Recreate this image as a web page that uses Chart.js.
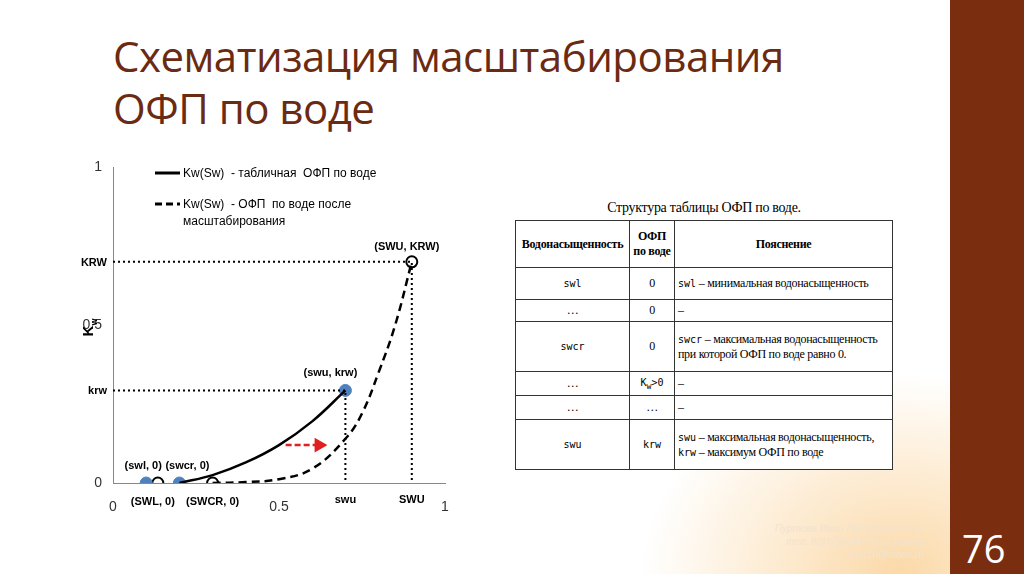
<!DOCTYPE html>
<html lang="ru">
<head>
<meta charset="UTF-8">
<script src="https://cdn.jsdelivr.net/npm/chart.js"></script>
<style>
  body { margin:0; width:1024px; height:574px; position:relative; overflow:hidden;
    font-family:'Liberation Sans', sans-serif;
    background: radial-gradient(ellipse 260px 200px at 900px 574px, #fbd9a8 0%, #fff 100%); }
  .bar { position:absolute; right:0; top:0; width:74px; height:574px; background:#7b2d0f; }
  h1 { position:absolute; left:113px; top:30px; margin:0; font-family:'Open Sans', sans-serif;
    font-weight:400; font-size:42px; line-height:52px; color:#6b2b12; letter-spacing:-0.5px; }
  .num { position:absolute; left:962px; top:522px; color:#fff; font-size:38px; font-family:'Open Sans',sans-serif; }
  .foot { position:absolute; right:100px; top:522px; font-size:10px; font-style:italic; color:#f3e3cf; text-align:right; line-height:13px; }
  #wrap { position:absolute; left:80px; top:150px; width:400px; height:385px; background:#fff; }
  .tbl { position:absolute; left:515px; top:200px; width:378px; background:#fff;
    font-family:'Liberation Serif', serif; font-size:12px; letter-spacing:-0.3px; }
  .tbl .cap { text-align:center; font-size:14px; height:20px; }
  table { border-collapse:collapse; width:100%; table-layout:fixed; }
  td, th { border:1px solid #333; padding:1px 3px; text-align:center; }
  th { font-size:12px; height:44px; }
  td.l { text-align:left; }
  .m { font-family:'DejaVu Sans Mono', monospace; font-size:10px; letter-spacing:0; }
</style>
</head>
<body>
<div class="bar"></div>
<h1>Схематизация масштабирования<br>ОФП по воде</h1>
<div id="wrap"><canvas id="c"></canvas></div>
<div class="tbl">
  <div class="cap">Структура таблицы ОФП по воде.</div>
  <table>
    <colgroup><col style="width:114px"><col style="width:45px"><col></colgroup>
    <tr><th>Водонасыщенность</th><th>ОФП<br>по воде</th><th>Пояснение</th></tr>
    <tr style="height:32px"><td class="m">swl</td><td>0</td><td class="l"><span class="m">swl</span> – минимальная водонасыщенность</td></tr>
    <tr style="height:22px"><td>…</td><td>0</td><td class="l">–</td></tr>
    <tr style="height:50px"><td class="m">swcr</td><td>0</td><td class="l"><span class="m">swcr</span> – максимальная водонасыщенность при которой ОФП по воде равно 0.</td></tr>
    <tr style="height:24px"><td>…</td><td class="m">K<sub>w</sub>&gt;0</td><td class="l">–</td></tr>
    <tr style="height:24px"><td>…</td><td>…</td><td class="l">–</td></tr>
    <tr style="height:50px"><td class="m">swu</td><td class="m">krw</td><td class="l"><span class="m">swu</span> – максимальная водонасыщенность,<br><span class="m">krw</span> – максимум ОФП по воде</td></tr>
  </table>
</div>
<div class="foot">Пуртова Инна Петровна к.т.н.<br>тел. 8(912)9244778 эл.почта<br>inna10@inbox.ru</div>
<div class="num">76</div>
<script>
// табличная ОФП
const tableSw = [0.2, 0.3, 0.4, 0.5, 0.6, 0.7];
const tableKw = [0, 0.025, 0.065, 0.12, 0.195, 0.293];
// после масштабирования
const scaledSw = [0.3, 0.4, 0.5, 0.6, 0.7, 0.75, 0.8, 0.85, 0.9];
const scaledKw = [0, 0.003, 0.012, 0.045, 0.14, 0.22, 0.35, 0.5, 0.7];
// точки
const filledPts = [[0.1, 0], [0.2, 0], [0.7, 0.293]];
const openPts = [[0.135, 0], [0.3, 0], [0.9, 0.7]];
const swu = 0.7, krw = 0.293, SWU = 0.9, KRW = 0.7;
const arrowSw = [0.52, 0.62], arrowKw = [0.12, 0.12];

const xy = (xs, ys) => xs.map((x, i) => ({x, y: ys[i]}));
const pts = a => a.map(p => ({x: p[0], y: p[1]}));
const dotted = {borderColor:'#000', borderWidth:2, borderDash:[2,3], pointRadius:0, showLine:true, fill:false};

const labels = {
  id:'labels',
  afterDraw(ch) {
    const {ctx, scales:{x, y}} = ch;
    ctx.save();
    ctx.fillStyle = '#000';
    ctx.font = 'bold 11px Liberation Sans';
    ctx.textAlign = 'center';
    const t = (s, vx, vy, dx, dy) => ctx.fillText(s, x.getPixelForValue(vx) + dx, y.getPixelForValue(vy) + dy);
    t('(SWU, KRW)', SWU, KRW, -5, -12);
    t('(swu, krw)', swu, krw, -15, -14);
    t('(swl, 0)', 0.1, 0, -3, -14);
    t('(swcr, 0)', 0.2, 0, 8, -14);
    t('(SWL, 0)', 0.135, 0, -5, 22);
    t('(SWCR, 0)', 0.3, 0, 0, 22);
    t('swu', swu, 0, 0, 20);
    t('SWU', SWU, 0, 0, 20);
    ctx.textAlign = 'right';
    t('KRW', 0, KRW, -6, 4);
    t('krw', 0, krw, -6, 4);
    ctx.font = 'bold 15px Liberation Sans';
    ctx.textAlign = 'center';
    const cx = (x.left + x.right) / 2;
    ctx.fillText('S', cx, x.bottom + 40);
    ctx.font = 'bold 9px Liberation Sans';
    ctx.fillText('w', cx + 9, x.bottom + 44);
    ctx.save();
    ctx.translate(x.left - 20, (y.top + y.bottom) / 2 + 6);
    ctx.rotate(-Math.PI / 2);
    ctx.font = 'bold 15px Liberation Sans';
    ctx.fillText('K', 0, 0);
    ctx.font = 'bold 9px Liberation Sans';
    ctx.fillText('w', 9, 4);
    ctx.restore();
    // legend
    ctx.font = '12px Liberation Sans';
    ctx.textAlign = 'left';
    ctx.lineWidth = 3;
    ctx.beginPath(); ctx.setLineDash([]); ctx.moveTo(75, 23); ctx.lineTo(100, 23); ctx.stroke();
    ctx.fillText('Kw(Sw)  - табличная  ОФП по воде', 103, 27);
    ctx.beginPath(); ctx.setLineDash([7, 4]); ctx.moveTo(75, 54); ctx.lineTo(100, 54); ctx.stroke();
    ctx.fillText('Kw(Sw)  - ОФП  по воде после', 103, 58);
    ctx.fillText('масштабирования', 103, 75);
    ctx.restore();
  }
};

new Chart(document.getElementById('c'), {
  type: 'scatter',
  data: { datasets: [
    {data:[{x:0, y:KRW}, {x:SWU, y:KRW}, {x:SWU, y:0}], ...dotted},
    {data:[{x:0, y:krw}, {x:swu, y:krw}, {x:swu, y:0}], ...dotted},
    {data:xy(tableSw, tableKw), showLine:true, borderColor:'#000', borderWidth:2.5, pointRadius:0, tension:0.4},
    {data:xy(scaledSw, scaledKw), showLine:true, borderColor:'#000', borderWidth:2.5, borderDash:[8,5], pointRadius:0, tension:0.4},
    {data:xy(arrowSw, arrowKw), showLine:true, borderColor:'#e02020', borderWidth:2.5, borderDash:[6,3],
      pointRadius:[0, 6], pointStyle:'triangle', rotation:90, pointBackgroundColor:'#e02020', pointBorderColor:'#e02020'},
    {data:pts(filledPts), pointRadius:6, pointBackgroundColor:'#4f81bd', pointBorderColor:'#4f81bd'},
    {data:pts(openPts), pointRadius:5.5, pointBackgroundColor:'#fff', pointBorderColor:'#000', pointBorderWidth:2}
  ]},
  options: {
    animation:false, responsive:true, maintainAspectRatio:false,
    layout:{padding:{left:3, right:35, top:17, bottom:2}},
    plugins:{legend:{display:false}, tooltip:{enabled:false}},
    scales:{
      x:{min:0, max:1, ticks:{stepSize:0.5, color:'#333', font:{size:14}, padding:8, callback:v => v},
        grid:{display:false, drawTicks:true}, border:{color:'#888'}, afterFit(s){ s.height = 50; }},
      y:{min:0, max:1, ticks:{stepSize:0.5, color:'#333', font:{size:14}, callback:v => v},
        grid:{display:false}, border:{color:'#888'}, afterFit(s){ s.width = 30; }}
    }
  },
  plugins:[labels]
});
</script>
</body>
</html>
